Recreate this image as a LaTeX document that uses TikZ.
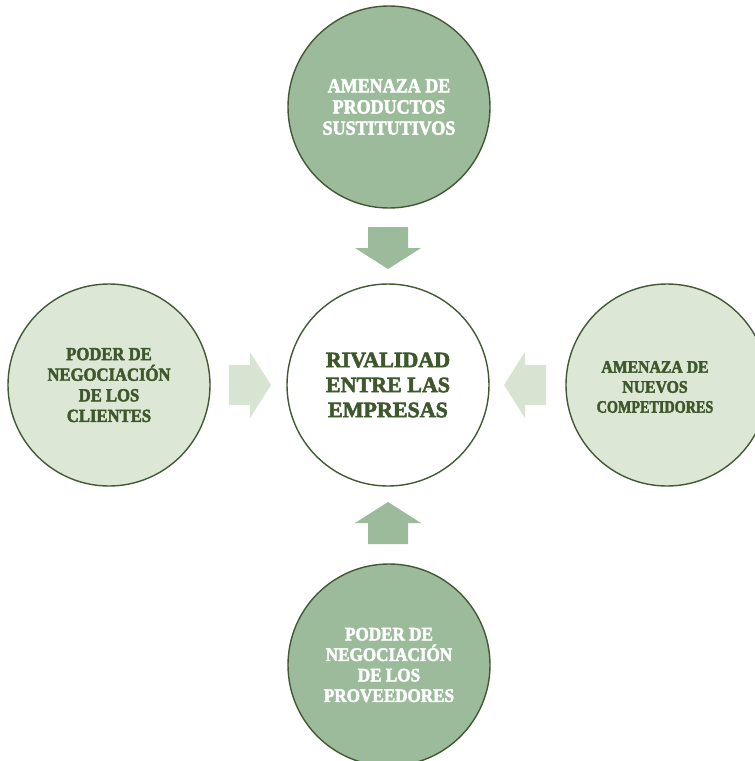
\documentclass[tikz,border=0pt]{standalone}
\usepackage{fontspec}
\setmainfont{Liberation Serif}
\newfontfamily\heavy{Liberation Serif}[FakeStretch=0.9, BoldFeatures={FakeBold=2.5}]
\newfontfamily\heavywide{Liberation Serif}[BoldFeatures={FakeBold=2.5}]
\definecolor{midgreen}{RGB}{156,187,155}
\definecolor{lightgreen}{RGB}{221,231,214}
\definecolor{lightarrow}{RGB}{216,228,210}
\definecolor{rimgreen}{RGB}{66,90,52}
\definecolor{textgreen}{RGB}{62,88,44}
\tikzset{
  force/.style={circle, draw=rimgreen, line width=1.4pt, minimum size=202pt, inner sep=0pt, align=center},
  darkforce/.style={force, fill=midgreen, text=white},
  paleforce/.style={force, fill=lightgreen, text=textgreen},
  barrow/.pic={\fill[pic actions] (-21,-20) -- (0,-20) -- (0,-33) -- (21,0) -- (0,33) -- (0,20) -- (-21,20) -- cycle;}
}
\begin{document}
\begin{tikzpicture}[x=1pt,y=-1pt]
\clip (0,0) rectangle (755,761);
\fill[white] (0,0) rectangle (755,761);
% circles
\node[darkforce, font=\heavy\bfseries\fontsize{20}{21.2}\selectfont] (sust) at (389,107) {AMENAZA DE\\PRODUCTOS\\SUSTITUTIVOS};
\node[force, fill=white, text=textgreen, font=\heavywide\bfseries\fontsize{22}{25}\selectfont] (rival) at (388,385) {RIVALIDAD\\ENTRE LAS\\EMPRESAS};
\node[paleforce, font=\heavy\bfseries\fontsize{18.5}{20.6}\selectfont] (clientes) at (109,385) {PODER DE\\NEGOCIACIÓN\\DE LOS\\CLIENTES};
\node[paleforce] (nuevos) at (667,385) {};
\node[text=textgreen, align=center, font=\heavy\bfseries\fontsize{17.5}{20}\selectfont] (nuevostext) at (655,387) {AMENAZA DE\\NUEVOS\\\scalebox{0.9}[1]{COMPETIDORES}};
\node[darkforce, font=\heavy\bfseries\fontsize{19}{20.5}\selectfont] (prov) at (389,665) {PODER DE\\NEGOCIACIÓN\\DE LOS\\PROVEEDORES};
% block arrows
\pic[rotate=-90, fill=midgreen] at (388,248) {barrow};
\pic[rotate=90, fill=midgreen] at (388,523) {barrow};
\pic[fill=lightarrow] at (250,385) {barrow};
\pic[rotate=180, fill=lightarrow] at (525,385) {barrow};
\end{tikzpicture}
\end{document}
